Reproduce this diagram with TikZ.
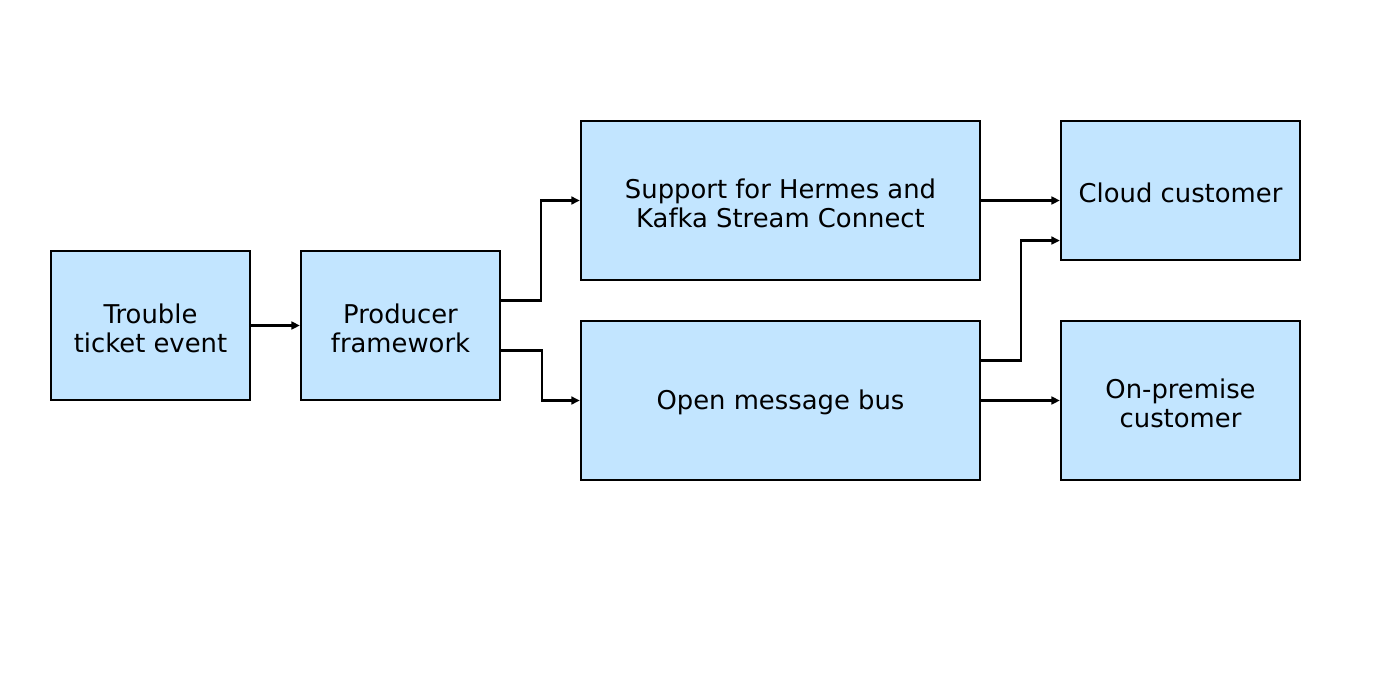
\documentclass[tikz,border=0pt]{standalone}
\usepackage{fontspec}
\setmainfont{DejaVu Sans}
\usetikzlibrary{arrows.meta}
\definecolor{boxfill}{HTML}{C2E5FF}
\begin{document}
\begin{tikzpicture}[x=0.01cm,y=-0.01cm,
  blk/.style={draw=black,fill=boxfill,line width=0.6pt,align=center,inner sep=0pt},
  txt/.style={align=center,inner sep=0pt,font=\fontsize{7.35pt}{8.4pt}\selectfont},
  conn/.style={draw=black,line width=0.6pt,-{Triangle[length=2.4pt,width=2.2pt]}}]
\useasboundingbox (0,0) rectangle (1400,700);
\node[blk,minimum width=1.99cm,minimum height=1.49cm,
  label={[txt,yshift=-0.03cm]center:Trouble\\ticket event}] (a) at (150.5,325.5) {};
\node[blk,minimum width=1.99cm,minimum height=1.49cm,
  label={[txt,yshift=-0.03cm]center:Producer\\framework}] (b) at (400.5,325.5) {};
\node[blk,minimum width=3.99cm,minimum height=1.59cm,
  label={[txt,yshift=-0.03cm]center:Support for Hermes and\\Kafka Stream Connect}] (c) at (780.5,200.5) {};
\node[blk,minimum width=3.99cm,minimum height=1.59cm,
  label={[txt,yshift=-0.02cm]center:Open message bus}] (d) at (780.5,400.5) {};
\node[blk,minimum width=2.39cm,minimum height=1.39cm,
  label={[txt,yshift=-0.025cm]center:Cloud customer}] (e) at (1180.5,190.5) {};
\node[blk,minimum width=2.39cm,minimum height=1.59cm,
  label={[txt,yshift=-0.03cm]center:On-premise\\customer}] (f) at (1180.5,400.5) {};
\draw[conn] (a) -- (b);
\draw[conn] ([yshift=0.25cm]b.east) -- ++(40,0) |- (c.west);
\draw[conn] ([yshift=-0.25cm]b.east) -- ++(41,0) |- (d.west);
\draw[conn] (c.east) -- (c.east -| e.west);
\draw[conn] ([yshift=0.4cm]d.east) -- ++(40,0) |- ([yshift=-0.5cm]e.west);
\draw[conn] (d) -- (f);
\end{tikzpicture}
\end{document}
